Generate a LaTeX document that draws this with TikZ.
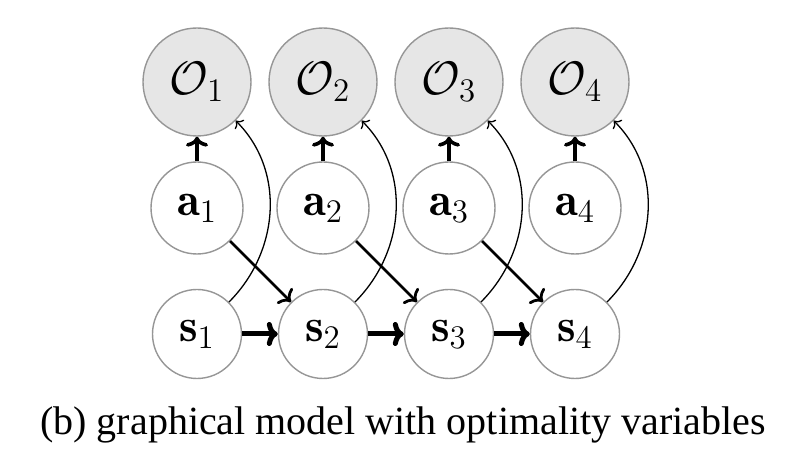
\RequirePackage{fix-cm}
\documentclass[tikz,border=0pt]{standalone}
\usepackage{fontspec}
\newfontfamily\capfont{Liberation Serif}
\usetikzlibrary{arrows.meta}
\definecolor{ringgray}{RGB}{150,150,150}
\definecolor{obsfill}{RGB}{230,230,230}
\begin{document}
\begin{tikzpicture}[x=0.5pt,y=-0.5pt,
  var/.style={circle,draw=ringgray,line width=0.7pt,inner sep=0pt,fill=white,
    font=\fontsize{23.5}{28}\selectfont},
  obsnode/.style={var,fill=obsfill,minimum size=54pt},
  actnode/.style={var,minimum size=46pt},
  statenode/.style={var,minimum size=44.5pt},
  uparrow/.style={line width=1.8pt,-{Computer Modern Rightarrow[length=5pt,width=11pt]}},
  diagarrow/.style={line width=1.4pt,-{Computer Modern Rightarrow[length=5pt,width=11pt]}},
  horarrow/.style={line width=2.5pt,-{Computer Modern Rightarrow[length=5.5pt,width=12pt]}},
  rewarrow/.style={line width=0.65pt,-{Computer Modern Rightarrow[length=3pt,width=6.5pt]}},
  caption/.style={font=\capfont\fontsize{20}{24}\selectfont,inner sep=0pt,anchor=base}
]
\useasboundingbox (0,0) rectangle (800,458);
\foreach \i/\x in {1/197,2/323,3/449,4/575}{
  \node[obsnode] (O\i) at (\x,82) {$\mathcal{O}_{\i}$};
  \node[actnode] (a\i) at (\x,208) {$\mathbf{a}_{\i}$};
  \node[statenode] (s\i) at (\x,334) {$\mathbf{s}_{\i}$};
}
\foreach \i in {1,2,3,4}{
  \draw[uparrow] (a\i) -- (O\i);
  \draw[rewarrow] (s\i.45) to[out=45,in=-45] (O\i.-45);
}
\foreach \i/\j in {1/2,2/3,3/4}{
  \draw[horarrow] (s\i) -- (s\j);
  \draw[diagarrow] (a\i) -- (s\j);
}
\node[caption] (cap) at (403,435) {(b) graphical model with optimality variables};
\end{tikzpicture}
\end{document}
